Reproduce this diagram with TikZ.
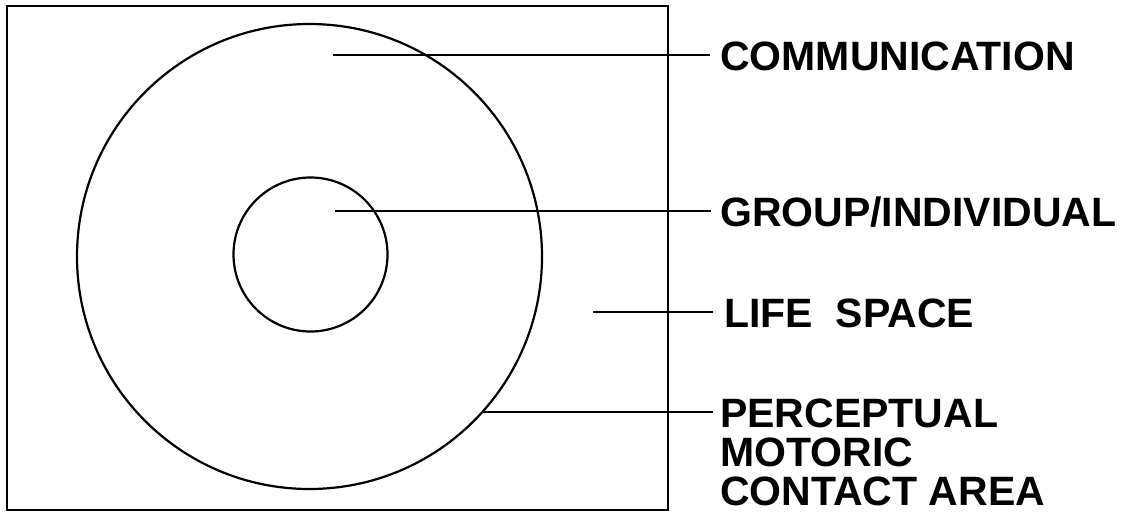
\documentclass[tikz,border=0pt]{standalone}
\usepackage{fontspec}
\setmainfont{Liberation Sans}
\begin{document}
\begin{tikzpicture}[x=1pt,y=-1pt,
  outline/.style={draw=black,line width=2.2pt},
  leader/.style={draw=black,line width=2.4pt},
  lab/.style={anchor=base west,inner sep=0pt,font=\fontsize{41}{39}\selectfont\bfseries}]
\useasboundingbox (0,0) rectangle (1137,514);
% frame
\draw[outline] (7,6) rectangle (668,510);
% circles
\node[outline,circle,minimum size=465pt,inner sep=0pt] (big) at (309.5,256.5) {};
\node[outline,circle,minimum size=154pt,inner sep=0pt] (small) at (310.5,254.5) {};
% labels
\node[lab] (comm) at (720,70) {COMMUNICATION};
\node[lab] (grp) at (720,226) {GROUP/INDIVIDUAL};
\node[lab] (life) at (724,327) {LIFE \ SPACE};
\node[lab,align=left] (pmc) at (720,505) {PERCEPTUAL\\MOTORIC\\CONTACT AREA};
% leader start points
\coordinate (c1) at (333,55);
\coordinate (c2) at (335,211);
\coordinate (c3) at (593,312);
\coordinate (c4) at (482,412);
\coordinate (e1) at (710,55);
\coordinate (e2) at (711,211);
\coordinate (e3) at (713,312);
\coordinate (e4) at (713,412);
\draw[leader] (c1) -- (e1);
\draw[leader] (c2) -- (e2);
\draw[leader] (c3) -- (e3);
\draw[leader] (c4) -- (e4);
\end{tikzpicture}
\end{document}
